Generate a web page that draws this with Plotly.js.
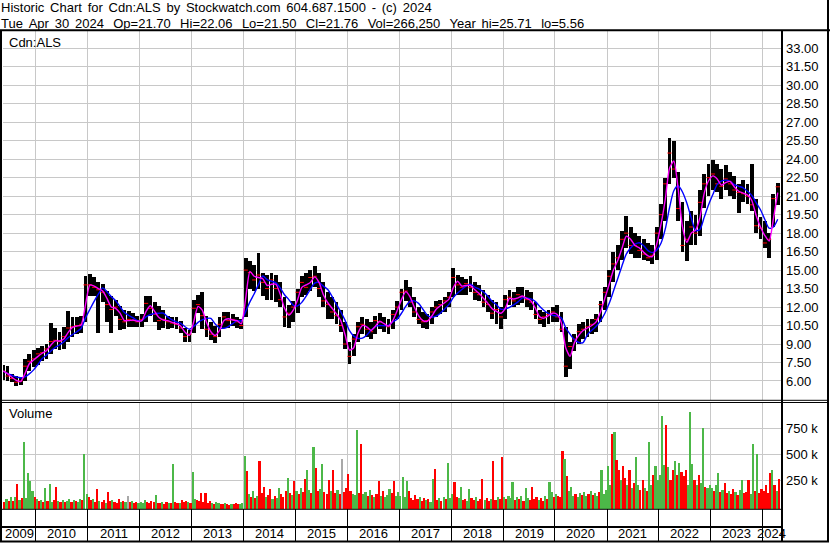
<!DOCTYPE html>
<html><head><meta charset="utf-8">
<script src="https://cdn.plot.ly/plotly-3.0.1.min.js"></script>
<style>html,body{margin:0;padding:0;background:#fff;overflow:hidden}#chart{width:830px;height:543px}</style>
</head><body><div id="chart"></div>
<script>
// ---------------- DATA ----------------
const firstYear = 2009, firstMonthIndex = 4; // May 2009
// monthly high / low / close (May 2009 .. Apr 2024)
const monthHigh = [
 7.3,7.2,6.6,6.4,6.3,7.8,8.2,8.5,
 8.7,8.8,9.0,10.7,10.3,10.0,10.4,11.7,11.2,11.2,11.3,14.5,
 14.7,14.4,14.0,13.9,13.3,12.9,12.6,12.1,11.8,11.7,11.5,11.3,
 11.4,12.9,12.9,12.4,12.1,11.8,11.3,11.2,11.2,10.9,10.3,10.1,
 12.6,13.0,13.2,11.3,10.8,10.5,11.2,11.6,11.6,11.4,11.2,11.0,
 16.0,15.7,15.4,16.4,14.8,14.6,14.8,14.6,14.0,12.8,12.2,12.5,
 13.5,14.5,14.8,15.0,15.3,14.8,14.0,13.2,12.8,12.4,11.8,10.8,
 9.2,9.8,10.8,11.2,11.0,10.8,11.3,11.5,11.2,11.0,11.8,12.5,
 13.5,14.2,13.6,12.8,12.0,11.6,11.4,12.0,12.5,12.6,12.8,13.2,
 15.2,14.6,14.4,14.3,14.5,14.0,13.8,13.4,13.0,12.6,12.4,12.0,
 13.0,13.4,13.2,13.6,13.6,13.4,13.2,12.4,11.8,11.6,11.8,12.0,
 12.2,11.6,10.4,9.2,9.8,10.6,10.8,11.0,11.0,11.4,12.5,13.6,
 15.0,16.5,17.0,18.2,19.4,18.5,18.0,17.8,17.5,17.2,17.0,18.5,
 20.4,22.5,25.7,25.5,23.0,20.5,19.0,19.8,19.5,21.5,22.8,23.6,
 23.9,23.6,23.2,23.5,23.0,22.6,22.0,22.3,22.0,23.6,20.8,19.3,
 19.0,18.0,21.2,22.06
];
const monthLow = [
 6.1,6.0,5.9,5.56,5.7,6.0,6.8,7.1,
 7.3,7.6,7.8,8.2,8.6,8.5,8.6,9.2,9.6,9.8,9.9,10.8,
 12.9,12.9,9.9,12.4,10.8,9.9,11.3,10.1,10.2,10.4,10.4,10.4,
 10.4,10.8,11.3,10.8,10.1,10.3,10.2,10.3,10.2,9.9,9.2,9.2,
 9.9,11.5,10.2,9.6,9.3,9.1,9.6,10.3,10.3,10.5,10.3,10.2,
 11.2,13.5,13.3,13.5,12.9,12.6,12.6,12.4,12.0,10.4,10.3,10.8,
 11.5,12.8,13.0,13.3,13.6,12.8,12.0,11.0,11.0,10.6,10.0,8.6,
 7.4,8.0,9.2,9.8,9.6,9.4,9.8,10.2,10.0,9.8,10.2,11.0,
 11.8,12.5,12.0,11.2,10.6,10.3,10.2,10.6,11.2,11.4,11.6,12.0,
 12.8,13.0,13.0,13.0,13.2,12.6,12.5,12.0,11.6,11.0,10.6,10.2,
 11.0,12.2,12.0,12.2,12.3,12.0,11.8,11.0,10.6,10.4,10.6,10.8,
 10.8,10.0,6.3,7.0,8.4,9.0,9.4,9.6,9.8,10.0,10.8,11.8,
 12.8,14.0,15.0,15.8,16.8,16.3,16.0,16.0,15.8,15.7,15.5,15.8,
 17.5,19.0,22.0,22.5,19.0,16.5,15.7,17.0,17.0,17.8,20.0,21.0,
 21.5,21.3,20.8,21.5,21.0,20.8,19.6,20.5,20.4,19.8,18.0,17.5,
 16.8,16.0,18.5,20.3
];
const monthClose = [
 6.8,6.4,6.2,5.9,6.0,7.2,7.6,7.8,
 8.2,8.3,8.6,9.2,9.3,9.2,9.6,10.3,10.4,10.5,10.6,13.8,
 13.8,13.6,13.4,13.2,12.2,11.8,12.0,11.0,10.8,11.0,10.9,10.8,
 11.0,12.3,11.9,11.4,10.9,11.0,10.8,10.7,10.6,10.3,9.6,9.8,
 11.9,12.2,11.3,10.2,9.8,9.6,10.6,11.2,10.9,11.0,10.8,10.5,
 15.0,14.8,14.2,14.6,14.0,13.5,14.2,13.5,12.6,11.2,11.5,12.0,
 13.2,14.0,13.6,14.4,14.5,13.5,12.5,12.2,11.6,11.3,10.5,9.0,
 8.0,9.4,10.4,10.6,10.2,10.0,10.9,10.8,10.5,10.4,11.4,12.0,
 13.2,13.3,12.4,11.6,11.0,10.8,10.9,11.6,12.0,12.2,12.5,12.8,
 14.4,13.8,13.6,13.9,13.6,13.2,13.0,12.4,12.2,11.5,11.8,11.2,
 12.6,12.8,12.5,13.0,12.8,12.6,12.4,11.4,11.0,11.2,11.4,11.6,
 11.2,10.2,7.2,8.8,9.4,10.0,10.2,10.4,10.6,11.0,12.2,13.2,
 14.5,15.5,16.0,17.5,18.0,17.0,17.0,16.6,16.3,16.0,16.2,18.0,
 19.5,22.0,24.5,23.2,20.0,17.0,17.5,18.5,18.0,20.5,22.0,22.5,
 22.8,22.0,21.8,22.4,22.0,21.5,21.3,21.2,21.0,20.3,18.6,18.4,
 17.2,17.5,20.8,21.76
];
// volume, two bins per month, in thousands of shares
const volumeK = [
 60,45,70,50,85,55,90,210,60,75,623,80,316,245,150,90,
 70,50,60,40,180,55,219,45,60,190,50,40,65,45,55,70,40,60,50,45,70,60,503,120,
 90,60,70,45,170,55,40,60,35,140,50,60,45,35,70,40,55,45,100,40,50,35,45,30,
 40,30,60,45,35,50,40,105,35,30,45,25,40,35,30,406,45,30,35,60,40,55,45,35,
 329,70,60,50,130,40,125,35,50,30,25,40,30,20,25,35,20,15,25,20,30,25,20,35,
 484,342,120,90,150,80,100,439,130,190,90,110,170,70,100,80,175,120,90,150,268,130,110,245,
 150,120,180,140,258,348,160,130,568,365,150,170,406,140,120,252,150,348,130,160,120,455,140,180,
 306,150,120,110,735,130,600,120,140,100,160,110,90,120,245,100,150,90,110,170,130,240,100,140,
 100,282,90,245,150,80,60,110,70,90,50,80,60,70,40,258,358,60,80,50,90,70,419,80,
 120,235,90,80,190,60,70,50,165,80,60,90,50,70,258,60,80,50,70,439,60,90,70,477,
 90,70,100,80,235,60,90,70,100,50,180,80,60,190,70,90,60,80,50,100,70,235,140,90,
 120,100,90,532,450,290,150,190,100,120,90,130,110,140,100,120,150,110,130,100,140,348,120,160,
 387,200,697,719,445,348,250,390,270,200,348,180,220,477,200,160,250,180,150,623,200,300,390,250,
 300,865,400,784,380,250,350,440,300,420,330,290,350,200,903,410,250,200,300,220,752,190,180,200,
 180,150,200,316,140,160,220,130,150,120,170,140,110,160,250,130,140,250,120,600,150,503,130,170,
 150,200,130,316,348,200,150,258
];
// u = up (green), d = down (red), n = unchanged (grey)
const volumeDir = [
 'ddudud ududuu uuud',
 'ududud uuddud uduudu duuduu',
 'dduddu dduddu dddudu nduddu',
 'uuuddd duddud dududd udddud',
 'uudddd dddudu uddudd uddduu',
 'ududud udddud duduud ddudud',
 'ududdu ududdu udddud dudndd',
 'dduuud duudud uddudu uudduu',
 'uuuudd dddudd uduudd ududuu',
 'udduud duuddu dddudd uddudd',
 'uduuud ududuu ddddud duduud',
 'udddud uuuduu duudud uuduuu',
 'uududd uddudu duuddu duuduu',
 'uuudud dududd duuudu duuduu',
 'uduudu dduddu duuddd uududd',
 'ddddudud'
].join('').replace(/ /g,'');
const priceTicks = [6,7.5,9,10.5,12,13.5,15,16.5,18,19.5,21,22.5,24,25.5,27,28.5,30,31.5,33];
const volumeTicks = [250000,500000,750000];
const volumeTickText = ['250 k','500 k','750 k'];
const yearStarts = ['2010-01-01','2011-01-01','2012-01-01','2013-01-01','2014-01-01','2015-01-01','2016-01-01','2017-01-01','2018-01-01','2019-01-01','2020-01-01','2021-01-01','2022-01-01','2023-01-01','2024-01-01'];
const yearLabels = ['2009','2010','2011','2012','2013','2014','2015','2016','2017','2018','2019','2020','2021','2022','2023','2024'];
const xRange = ['2009-05-15','2024-05-09'];
const titleLine1Words = ['Historic','Chart','for','Cdn:ALS','by','Stockwatch.com','604.687.1500','-','(c)','2024'];
const titleLine2Fields = [['Tue','Apr','30','2024'],['Op=21.70'],['Hi=22.06'],['Lo=21.50'],['Cl=21.76'],['Vol=266,250'],['Year','hi=25.71'],['lo=5.56']];

// ---------------- BUILD ----------------
const iso = ms => new Date(ms).toISOString().slice(0,19).replace('T',' ');
const monthX = [], volX = [];
for (let k = 0; k < monthClose.length; k++) {
  const y = firstYear + Math.floor((firstMonthIndex + k) / 12), m = (firstMonthIndex + k) % 12;
  const a = Date.UTC(y, m, 1), mid = Date.UTC(y, m, 16), b = Date.UTC(y, m + 1, 1);
  monthX.push(iso((a + b) / 2));
  volX.push(iso((a + mid) / 2), iso((mid + b) / 2));
}
const sma = (arr, n) => arr.map((_, i) => { const s = arr.slice(Math.max(0, i - n + 1), i + 1); return s.reduce((p, c) => p + c, 0) / s.length; });
const DAY = 86400000;
const volBase = -29000;
const dirColor = {u:'#4CB848', d:'#FF0000', n:'#A8A8A8'};

const FONT = 'Liberation Sans, Arial, sans-serif';
const W = 830, H = 543, L = 3, R = 49, T = 31, B = 2;
const pw = W - L - R, ph = H - T - B;
const fx = x => (x - L) / pw;
const fy = y => (H - B - y) / ph;

const traces = [
  {type:'bar', x:monthX, y:monthHigh.map((h,i)=>h-monthLow[i]), base:monthLow, width:27*DAY,
   marker:{color:'#000', line:{width:0}}, xaxis:'x', yaxis:'y', hoverinfo:'skip'},
  {type:'scatter', mode:'markers', x:monthX, y:monthClose, xaxis:'x', yaxis:'y',
   marker:{symbol:'line-ew', size:3, line:{color:'#FF0000', width:1}}, hoverinfo:'skip'},
  {type:'scatter', mode:'lines', x:monthX, y:sma(monthClose,5), xaxis:'x', yaxis:'y',
   line:{color:'#0000FF', width:1.4, shape:'spline', smoothing:0.7}, hoverinfo:'skip'},
  {type:'scatter', mode:'lines', x:monthX, y:sma(monthClose,2), xaxis:'x', yaxis:'y',
   line:{color:'#FF00FF', width:1.4, shape:'spline', smoothing:0.6}, hoverinfo:'skip'},
  {type:'bar', x:volX, y:volumeK.map(v=>v*1000 - volBase), base:volBase, width:15.2*DAY,
   marker:{color:volumeDir.split('').map(c=>dirColor[c]), line:{width:0}}, xaxis:'x', yaxis:'y2', hoverinfo:'skip'},
  {type:'scatter', mode:'lines', x:[], y:[], xaxis:'x2', yaxis:'y3', hoverinfo:'skip', showlegend:false}
];

const hline = (y, x0, x1, w) => ({type:'line', xref:'paper', yref:'paper', x0:fx(x0), x1:fx(x1), y0:fy(y), y1:fy(y), line:{color:'#000', width:w}});
const vline = (x, y0, y1, w) => ({type:'line', xref:'paper', yref:'paper', x0:fx(x), x1:fx(x), y0:fy(y0), y1:fy(y1), line:{color:'#000', width:w}});

const bounds = [xRange[0], ...yearStarts, xRange[1]].map(s => Date.parse(s));
const yearAnn = yearLabels.map((t, i) => ({
  text:t, xref:'x', yref:'paper', x:iso((bounds[i] + bounds[i+1]) / 2), y:fy(533.5),
  showarrow:false, xanchor:'center', yanchor:'middle', font:{family:FONT, size:13, color:'#000'}
}));

const gapW = ' \u2006', gapF = ' \u2006 ';
const line1 = titleLine1Words.join(gapW);
const line2 = titleLine2Fields.map(f => f.join(gapW)).join(gapF);
const annotations = [
  {text:line1, xref:'paper', yref:'paper', x:fx(-1.3), y:fy(8), xanchor:'left', yanchor:'middle', showarrow:false, font:{family:FONT, size:13, color:'#000'}},
  {text:line2, xref:'paper', yref:'paper', x:fx(-1.3), y:fy(23), xanchor:'left', yanchor:'middle', showarrow:false, font:{family:FONT, size:13, color:'#000'}},
  {text:'Cdn:ALS', xref:'paper', yref:'paper', x:fx(7.3), y:fy(42.3), xanchor:'left', yanchor:'middle', showarrow:false, font:{family:FONT, size:13, color:'#000'}},
  {text:'Volume', xref:'paper', yref:'paper', x:fx(7.3), y:fy(413.3), xanchor:'left', yanchor:'middle', showarrow:false, font:{family:FONT, size:13, color:'#000'}},
  ...yearAnn
];

const shapes = [
  hline(30.3, 0, 830, 2),
  vline(1, 30.3, 542, 2),
  vline(828, 0, 542, 2),
  vline(782, 30.3, 542, 2),
  hline(400.3, 0, 829, 1),
  hline(402.5, 0, 829, 1),
  hline(509.3, 0, 782, 1),
  hline(527, 0, 782, 2),
  hline(541.5, 0, 829, 2)
];

const layout = {
  width:W, height:H, margin:{l:L, r:R, t:T, b:B, pad:0},
  paper_bgcolor:'#fff', plot_bgcolor:'#fff', showlegend:false,
  font:{family:FONT, size:13, color:'#000'},
  bargap:0,
  xaxis:{type:'date', range:xRange, domain:[0,1], anchor:'y', tickvals:yearStarts, showticklabels:false, ticks:'',
         showgrid:true, gridcolor:'#C8C8C8', gridwidth:1, zeroline:false, showline:false},
  xaxis2:{type:'date', matches:'x', range:xRange, domain:[0,1], anchor:'y3', tickvals:yearStarts, showticklabels:false, ticks:'',
         showgrid:true, gridcolor:'#000', gridwidth:1, zeroline:false, showline:false},
  yaxis:{domain:[fy(400.3), 1], range:[4.432, 34.405], side:'right', anchor:'x', tickvals:priceTicks,
         ticktext:priceTicks.map(v=>v.toFixed(2)), ticks:'', ticklabelstandoff:4, showgrid:true, gridcolor:'#C8C8C8', gridwidth:1,
         zeroline:false, showline:false, tickfont:{family:FONT, size:13, color:'#000'}},
  yaxis2:{domain:[fy(509.3), fy(402.5)], range:[volBase, 998000], side:'right', anchor:'x', tickvals:volumeTicks,
         ticktext:volumeTickText, ticks:'', ticklabelstandoff:4, showgrid:true, gridcolor:'#C8C8C8', gridwidth:1,
         zeroline:false, showline:false, tickfont:{family:FONT, size:13, color:'#000'}},
  yaxis3:{domain:[0, fy(509.3)], range:[0,1], anchor:'x2', showgrid:false, showticklabels:false, ticks:'', zeroline:false, showline:false},
  shapes:shapes,
  annotations:annotations
};

Plotly.newPlot('chart', traces, layout, {staticPlot:true, displayModeBar:false});
</script>
</body></html>
